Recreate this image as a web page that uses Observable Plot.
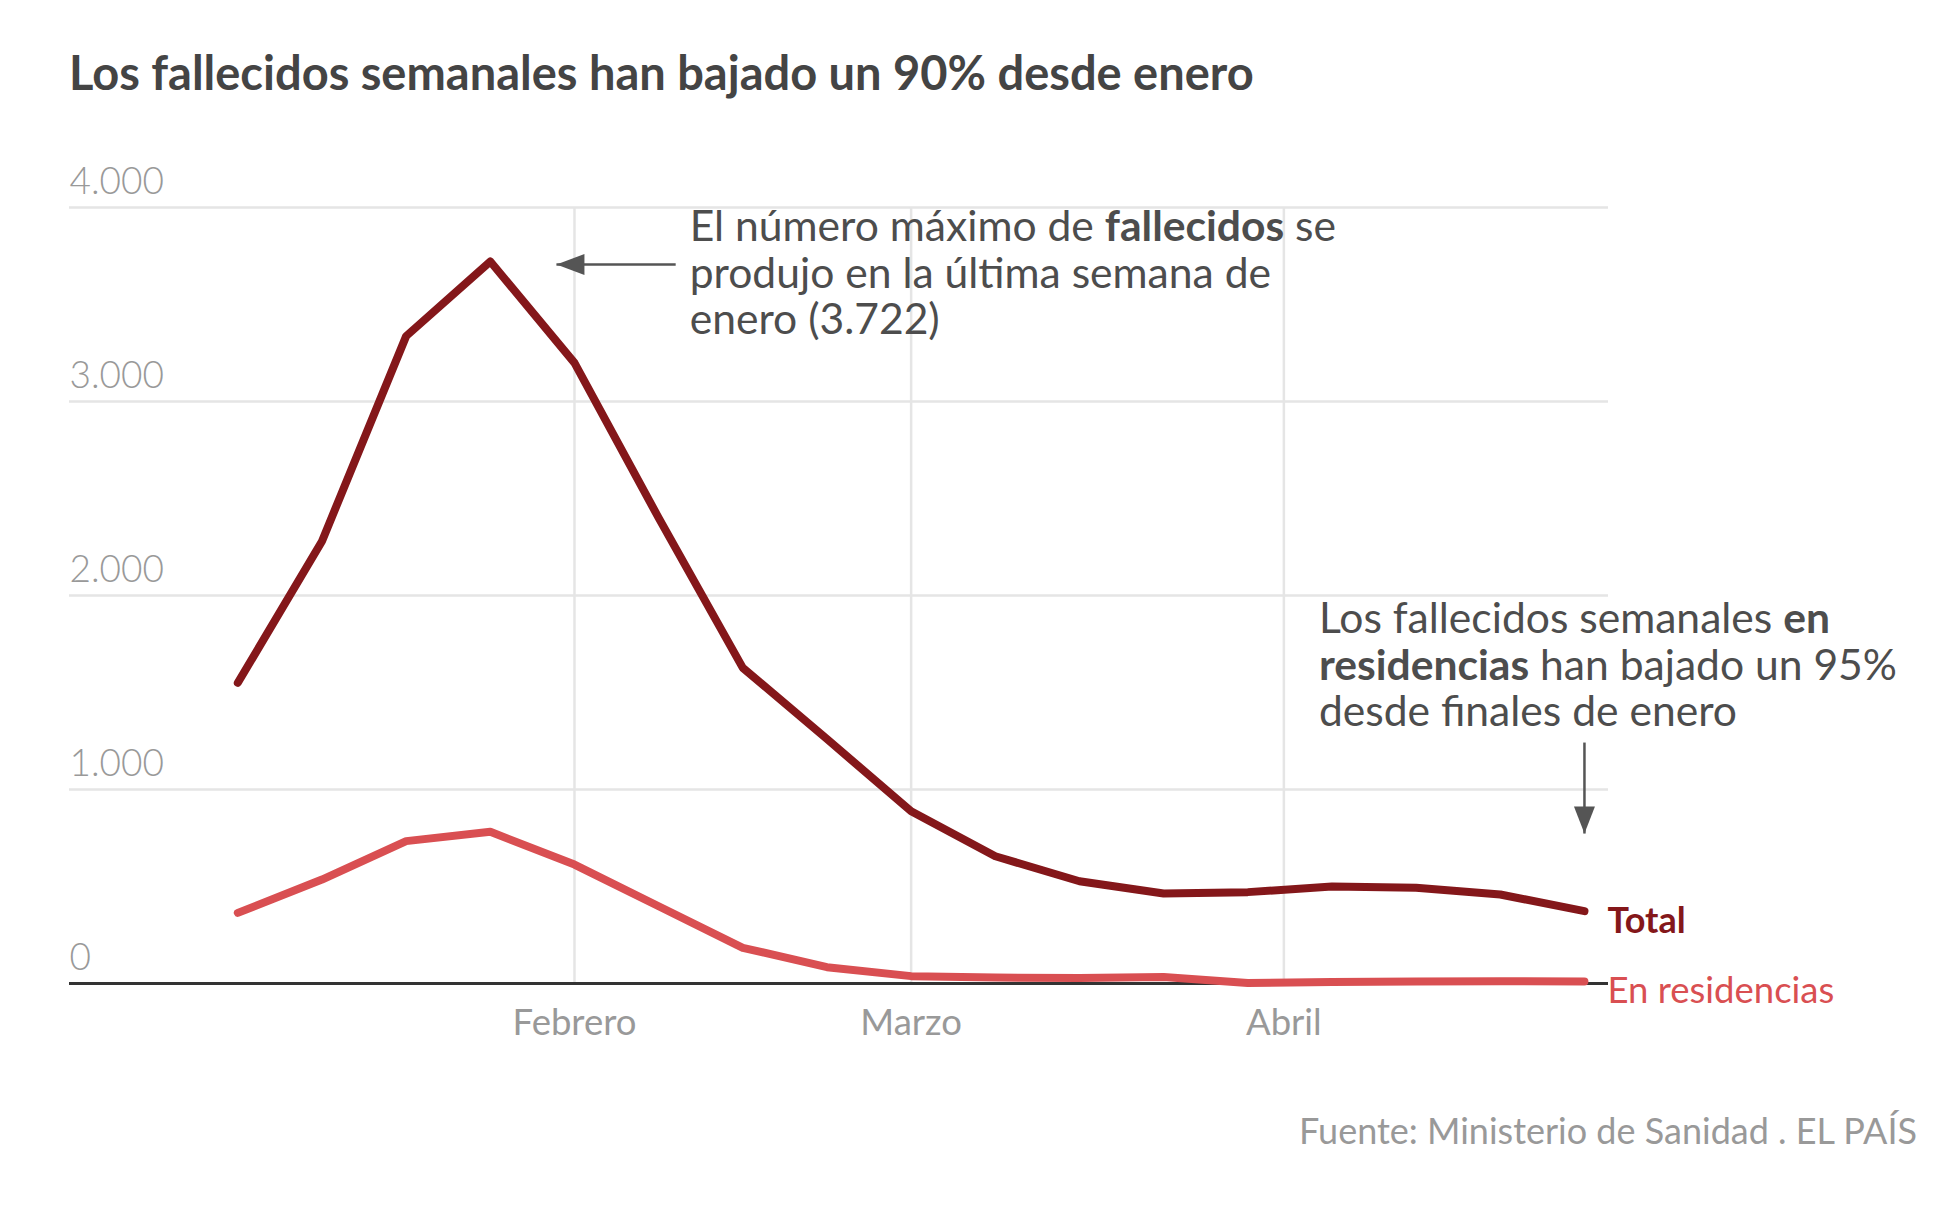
<!DOCTYPE html>
<html><head><meta charset="utf-8">
<script src="https://cdn.jsdelivr.net/npm/d3@7"></script>
<script src="https://cdn.jsdelivr.net/npm/@observablehq/plot@0.6"></script>
<style>
body{margin:0;background:#fff;font-family:Lato,sans-serif;width:1957px;}
#title{margin:47px 0 0 69px;height:63px;line-height:50px;font-size:47px;font-weight:700;color:#444;white-space:nowrap;}
#caption{margin-top:46px;line-height:40px;height:40px;font-size:36px;font-weight:400;color:#999;text-align:right;padding-right:40px;white-space:nowrap;}
svg text{white-space:pre;}
</style></head><body>
<div id="title">Los fallecidos semanales han bajado un 90% desde enero</div>
<div id="chart"></div>
<div id="caption">Fuente: Ministerio de Sanidad . EL PAÍS</div>
<script>
// ---- data ----
const weeks = ["2021-01-04","2021-01-11","2021-01-18","2021-01-25","2021-02-01","2021-02-08","2021-02-15","2021-02-22","2021-03-01","2021-03-08","2021-03-15","2021-03-22","2021-03-29","2021-04-05","2021-04-12","2021-04-19","2021-04-26"];
const total = [1550,2280,3337,3722,3199,2400,1627,1260,888,656,527,464,471,500,493,459,373];
const residencias = [364,536,734,782,613,398,184,84,38,31,28,33,2,8,10,12,10];
const yTicks = [0,1000,2000,3000,4000];
const monthTicks = ["2021-02-01","2021-03-01","2021-04-01"];
const monthLabels = ["Febrero","Marzo","Abril"];
const seriesNames = ["Total","En residencias"];
const seriesColors = ["#84171a","#d94f52"];

// annotations
const notes = [
  {x:"2021-02-10", y:4000, dx:7, dy:0, text:"El número máximo de **fallecidos** se\nprodujo en la última semana de\nenero (3.722)"},
  {x:"2021-04-04", y:2000, dx:-1, dy:4, text:"Los fallecidos semanales **en**\n**residencias** han bajado un 95%\ndesde finales de enero"}
];
const arrowLeft = {x1:"2021-02-09T10:00", x2:"2021-01-30T12:00", y1:3706, y2:3706};
const arrowDown = {x1:"2021-04-26", x2:"2021-04-26", y1:1242, y2:773};

// ---- build ----
const parse = s => new Date(s + (s.length === 10 ? "T00:00Z" : "Z"));
const rows = weeks.map((w,i) => ({date: parse(w), total: total[i], residencias: residencias[i]}));
const monthDates = monthTicks.map(parse);
const arrows = [arrowLeft, arrowDown].map(a => ({x1: parse(a.x1), x2: parse(a.x2), y1: a.y1, y2: a.y2}));
const last = rows[rows.length-1];
const fmt = d => d3.format(",")(d).replace(/,/g, ".");
const headLeft = {draw(c){c.moveTo(0,0);c.lineTo(28,-10.5);c.lineTo(28,10.5);c.closePath();}};
const headDown = {draw(c){c.moveTo(0,0);c.lineTo(-10.5,-27);c.lineTo(10.5,-27);c.closePath();}};

const noteMarks = notes.map(n => Plot.text([{x: parse(n.x), y: n.y, text: n.text}], {
  x: "x", y: "y", text: "text", dx: n.dx, dy: n.dy, textAnchor: "start", lineAnchor: "top",
  lineHeight: 1.1, fill: "#4d4d4d", fontSize: 42.6, fontWeight: 400
}));

const plot = Plot.plot({
  width: 1957,
  height: 954,
  marginLeft: 69,
  marginRight: 349,
  marginTop: 97,
  marginBottom: 81,
  style: {fontFamily: "Lato, sans-serif", fontSize: "34px", overflow: "visible", background: "#fff"},
  x: {type: "utc", domain: [parse("2020-12-21"), parse("2021-04-28")], axis: null},
  y: {domain: [0, 4000], axis: null},
  marks: [
    Plot.ruleY(yTicks.filter(d => d > 0), {stroke: "#e5e5e5", strokeWidth: 2.5}),
    Plot.ruleX(monthDates, {y1: 0, y2: 4000, stroke: "#e5e5e5", strokeWidth: 2.5}),
    Plot.axisY({ticks: yTicks, tickSize: 0, tickPadding: 0, textAnchor: "start", lineAnchor: "bottom", dy: -14, tickFormat: fmt, fill: "#999", fontSize: 37, fontWeight: 300}),
    Plot.axisX({ticks: monthDates, tickSize: 0, tickPadding: 26, tickFormat: d => monthLabels[monthDates.findIndex(m => +m === +d)], fill: "#999", fontSize: 36.5, fontWeight: 400}),
    Plot.ruleY([0], {stroke: "#333", strokeWidth: 3}),
    Plot.line(rows, {x: "date", y: "residencias", stroke: seriesColors[1], strokeWidth: 8, strokeLinejoin: "round", strokeLinecap: "round"}),
    Plot.line(rows, {x: "date", y: "total", stroke: seriesColors[0], strokeWidth: 8, strokeLinejoin: "round", strokeLinecap: "round"}),
    Plot.text([last], {x: "date", y: "total", text: () => seriesNames[0], fill: seriesColors[0], fontWeight: 700, textAnchor: "start", lineAnchor: "middle", dx: 23, dy: 10, fontSize: 36}),
    Plot.text([last], {x: "date", y: "residencias", text: () => seriesNames[1], fill: seriesColors[1], fontWeight: 400, textAnchor: "start", lineAnchor: "middle", dx: 23, dy: 10, fontSize: 36.5}),
    Plot.link(arrows, {x1: "x1", x2: "x2", y1: "y1", y2: "y2", stroke: "#555", strokeWidth: 2.5}),
    Plot.dot([arrows[0]], {x: "x2", y: "y2", symbol: headLeft, fill: "#555"}),
    Plot.dot([arrows[1]], {x: "x2", y: "y2", symbol: headDown, fill: "#555"}),
    ...noteMarks
  ]
});
document.getElementById("chart").appendChild(plot);
d3.select(plot).selectAll("tspan").each(function(){
  const t = this.textContent;
  if (!t.includes("**")) return;
  const parts = t.split("**");
  this.textContent = "";
  parts.forEach((p,i) => { if (!p) return; const s = d3.select(this).append("tspan").text(p); if (i % 2) s.attr("font-weight", 700); });
});
</script>
</body></html>
